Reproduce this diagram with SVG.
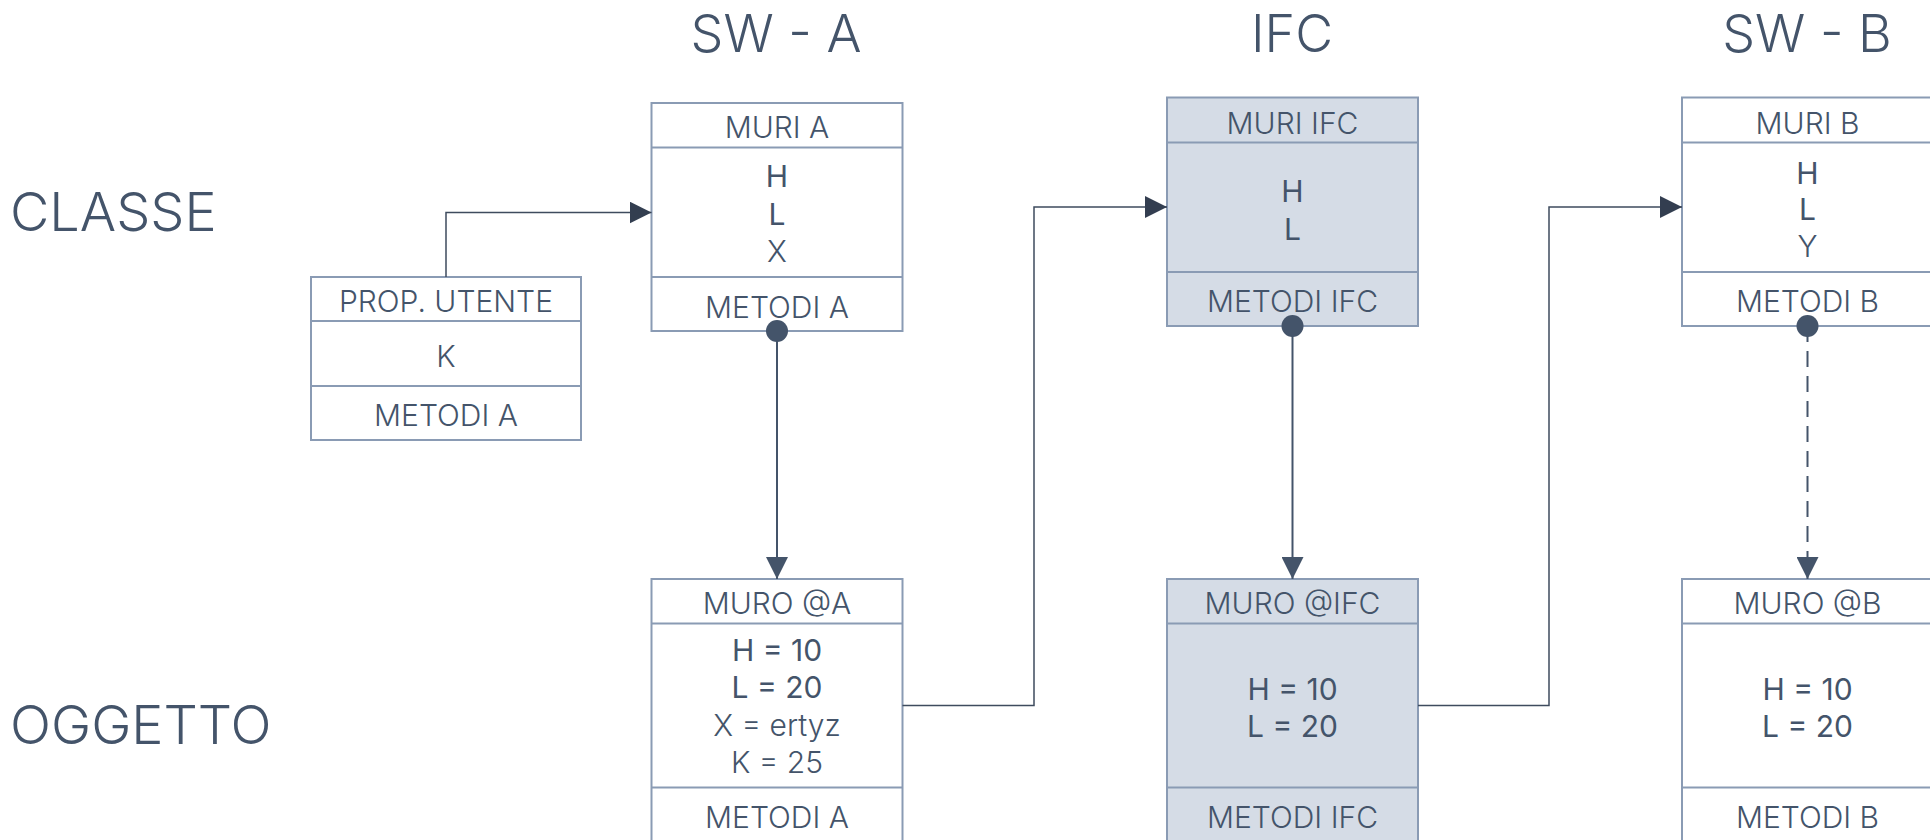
<svg xmlns="http://www.w3.org/2000/svg" width="1930" height="840" viewBox="0 0 1930 840">
<defs>
<style>
.t{font-family:Inter,"Liberation Sans",Arial,sans-serif;fill:#44546a;text-anchor:middle;font-weight:400}
.lt{font-weight:300}
.big{font-size:52px}
.lbl{font-size:54px;text-anchor:start}
.f{font-size:30px}
.box{fill:#ffffff;stroke:#8a9bb4;stroke-width:2}
.ifc{fill:#d5dce6}
.div{stroke:#8a9bb4;stroke-width:2}
.con{fill:none;stroke:#3e4b5e;stroke-width:1.5}
.inst{fill:none;stroke:#44546a;stroke-width:2}
.dash{stroke-dasharray:16 9}
.dot{fill:#44546a}
</style>
<marker id="arr" markerUnits="userSpaceOnUse" markerWidth="22" markerHeight="22" refX="22" refY="11" orient="auto">
<path d="M0,0 L22,11 L0,22 z" fill="#333e50"/>
</marker>
<marker id="arrd" markerUnits="userSpaceOnUse" markerWidth="22" markerHeight="22" refX="22" refY="11" orient="auto">
<path d="M0,0 L22,11 L0,22 z" fill="#44546a"/>
</marker>
</defs>
<rect width="1930" height="840" fill="#ffffff"/>

<g id="titles">
<text class="t lt big" x="776" y="52">SW - A</text>
<text class="t lt big" x="1292" y="52">IFC</text>
<text class="t lt big" x="1807" y="52">SW - B</text>
<text class="t lt lbl" x="10" y="231">CLASSE</text>
<text class="t lt lbl" x="10" y="744">OGGETTO</text>
</g>

<g id="prop-utente">
<rect class="box" x="311" y="277" width="270" height="163"/>
<line class="div" x1="311" y1="321" x2="581" y2="321"/>
<line class="div" x1="311" y1="386" x2="581" y2="386"/>
<text class="t lt f" x="446" y="311.5">PROP. UTENTE</text>
<text class="t lt f" x="446" y="366.5">K</text>
<text class="t lt f" x="446" y="426">METODI A</text>
</g>

<g id="muri-a">
<rect class="box" x="651.5" y="103" width="251" height="228"/>
<line class="div" x1="651.5" y1="147.5" x2="902.5" y2="147.5"/>
<line class="div" x1="651.5" y1="277" x2="902.5" y2="277"/>
<text class="t lt f" x="777" y="137.5">MURI A</text>
<text class="t f" x="777" y="186.5">H</text>
<text class="t f" x="777" y="225">L</text>
<text class="t lt f" x="777" y="261.5">X</text>
<text class="t lt f" x="777" y="317.5">METODI A</text>
</g>

<g id="muri-ifc">
<rect class="box ifc" x="1167" y="97.5" width="251" height="228.5"/>
<line class="div" x1="1167" y1="142.5" x2="1418" y2="142.5"/>
<line class="div" x1="1167" y1="272" x2="1418" y2="272"/>
<text class="t lt f" x="1292.5" y="134">MURI IFC</text>
<text class="t f" x="1292.5" y="201.5">H</text>
<text class="t f" x="1292.5" y="240">L</text>
<text class="t lt f" x="1292.5" y="311.5">METODI IFC</text>
</g>

<g id="muri-b">
<rect class="box" x="1682" y="97.5" width="251" height="228.5"/>
<line class="div" x1="1682" y1="142.5" x2="1933" y2="142.5"/>
<line class="div" x1="1682" y1="272" x2="1933" y2="272"/>
<text class="t lt f" x="1807.5" y="134">MURI B</text>
<text class="t f" x="1807.5" y="183.5">H</text>
<text class="t f" x="1807.5" y="220">L</text>
<text class="t lt f" x="1807.5" y="256.5">Y</text>
<text class="t lt f" x="1807.5" y="311.5">METODI B</text>
</g>

<g id="muro-a">
<rect class="box" x="651.5" y="579" width="251" height="265"/>
<line class="div" x1="651.5" y1="623.5" x2="902.5" y2="623.5"/>
<line class="div" x1="651.5" y1="787.5" x2="902.5" y2="787.5"/>
<text class="t lt f" x="777" y="614">MURO @A</text>
<text class="t f" x="777" y="661">H = 10</text>
<text class="t f" x="777" y="698">L = 20</text>
<text class="t lt f" x="777" y="736">X = ertyz</text>
<text class="t lt f" x="777" y="773">K = 25</text>
<text class="t lt f" x="777" y="828">METODI A</text>
</g>

<g id="muro-ifc">
<rect class="box ifc" x="1167" y="579" width="251" height="265"/>
<line class="div" x1="1167" y1="623.5" x2="1418" y2="623.5"/>
<line class="div" x1="1167" y1="787.5" x2="1418" y2="787.5"/>
<text class="t lt f" x="1292.5" y="614">MURO @IFC</text>
<text class="t f" x="1292.5" y="700">H = 10</text>
<text class="t f" x="1292.5" y="736.5">L = 20</text>
<text class="t lt f" x="1292.5" y="828">METODI IFC</text>
</g>

<g id="muro-b">
<rect class="box" x="1682" y="579" width="251" height="265"/>
<line class="div" x1="1682" y1="623.5" x2="1933" y2="623.5"/>
<line class="div" x1="1682" y1="787.5" x2="1933" y2="787.5"/>
<text class="t lt f" x="1807.5" y="614">MURO @B</text>
<text class="t f" x="1807.5" y="699.5">H = 10</text>
<text class="t f" x="1807.5" y="736.5">L = 20</text>
<text class="t lt f" x="1807.5" y="828">METODI B</text>
</g>

<g id="connectors">
<path class="con" d="M446,277 V212.5 H651.5" marker-end="url(#arr)"/>
<path class="con" d="M902.5,705.5 H1034 V207 H1167" marker-end="url(#arr)"/>
<path class="con" d="M1418,705.5 H1549 V207 H1682" marker-end="url(#arr)"/>
<path class="inst" d="M777,331 V579" marker-end="url(#arrd)"/>
<circle class="dot" cx="777" cy="331" r="11"/>
<path class="inst" d="M1292.5,326 V579" marker-end="url(#arrd)"/>
<circle class="dot" cx="1292.5" cy="326" r="11"/>
<path class="inst dash" d="M1807.5,326 V579" marker-end="url(#arrd)"/>
<circle class="dot" cx="1807.5" cy="326" r="11"/>
</g>
</svg>
